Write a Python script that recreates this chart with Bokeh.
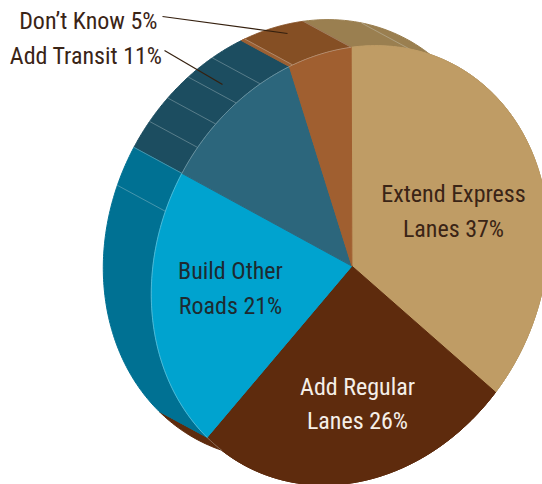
import numpy as np
from bokeh.core.properties import value
from bokeh.embed import file_html
from bokeh.models import Range1d
from bokeh.plotting import figure
from bokeh.resources import INLINE

# Survey responses, clockwise from twelve o'clock
categories = ["Extend Express Lanes", "Add Regular Lanes", "Build Other Roads", "Add Transit", "Don’t Know"]
shares = [37, 26, 21, 11, 5]
top_colors = ["#BF9C65", "#5E2B0D", "#00A3CF", "#2C667C", "#A05F30"]
side_colors = ["#9A7F50", "#5E2B0D", "#007193", "#1C4D60", "#854F24"]

# Rim angles (degrees) of the pleat lines on the pie's outer wall
pleat_angles = [17, 292, 310, 317.5, 325, 333, 343]

# Inside labels, one line per row
inner_lines = ["Extend Express", "Lanes 37%", "Add Regular", "Lanes 26%", "Build Other", "Roads 21%"]
inner_x = [453, 453, 357, 357, 230, 230]
inner_y = [193, 228, 386, 420, 270, 305]
inner_colors = ["#3A2416", "#3A2416", "#F5EFE8", "#F5EFE8", "#1E2A30", "#1E2A30"]

# Outside labels, with leaders running into their slices
outer_lines = ["Don’t Know 5%", "Add Transit 11%"]
outer_x = [157, 162]
outer_y = [20, 55]
leader_x0, leader_y0 = [162, 164], [16, 50]
leader_x1, leader_y1 = [287, 222], [33, 84]

# Projective tilt taking the unit circle onto the page
TILT = np.array([[202.20105, 2.54737, 351.41231],
                 [-26.74740, 219.09253, 265.64047],
                 [0.01047, 0.00514, 1.0]])
CENTER = (351.4, 265.6)
DEPTH_X, DEPTH_Y = -48, -26
FONT = value("Roboto Condensed")

edges = np.cumsum([0] + shares) * 3.6


def rim(angle):
    t = np.radians(np.atleast_1d(angle))
    q = TILT @ np.vstack([np.sin(t), -np.cos(t), np.ones_like(t)])
    return q[0] / q[2], q[1] / q[2]


p = figure(width=542, height=484, x_range=Range1d(0, 542), y_range=Range1d(484, 0),
           toolbar_location=None, output_backend="svg", min_border=0,
           x_axis_location=None, y_axis_location=None, outline_line_color=None)
p.grid.visible = False

# Outer wall, back to front so the slice seams overlap correctly
for i in [0, 4, 3, 1, 2]:
    a = np.linspace(edges[i], edges[i + 1], 90)
    x, y = rim(a)
    p.patch(np.r_[x, x[::-1] + DEPTH_X], np.r_[y, y[::-1] + DEPTH_Y], color=side_colors[i])

# Thin lighter strip where the Don't Know wall meets Add Transit
a = np.linspace(edges[4], pleat_angles[-1], 4)
x, y = rim(a)
p.patch(np.r_[x, x[::-1] + DEPTH_X], np.r_[y, y[::-1] + DEPTH_Y], color="#9C6033")

# Pleats and seams on the wall
for a in pleat_angles + [edges[3], 0]:
    x, y = rim(a)
    p.line([x[0], x[0] + DEPTH_X], [y[0], y[0] + DEPTH_Y], line_color="#DCE6E6", line_width=0.7, line_alpha=0.45)

# Top face
for i, s in enumerate(shares):
    a = np.linspace(edges[i], edges[i + 1], 120)
    x, y = rim(a)
    p.patch(np.r_[CENTER[0], x], np.r_[CENTER[1], y], color=top_colors[i])

# Hairline along the rim of the upper-left slices, trailing a little into the brown one
a = np.linspace(edges[2] - 6, 360, 180)
x, y = rim(a)
p.line(x, y, line_color="#DCE6E6", line_width=0.7, line_alpha=0.5)

p.segment(leader_x0, leader_y0, leader_x1, leader_y1, line_color="#35200F", line_width=1.2)

p.text(inner_x, inner_y, text=inner_lines, text_color=inner_colors, text_font=FONT,
       text_font_size="24px", text_align="center", text_baseline="middle")
p.text(outer_x, outer_y, text=outer_lines, text_color="#3A2416", text_font=FONT,
       text_font_size="24px", text_align="right", text_baseline="middle")

open("out.html", "w").write(file_html(p, INLINE))
